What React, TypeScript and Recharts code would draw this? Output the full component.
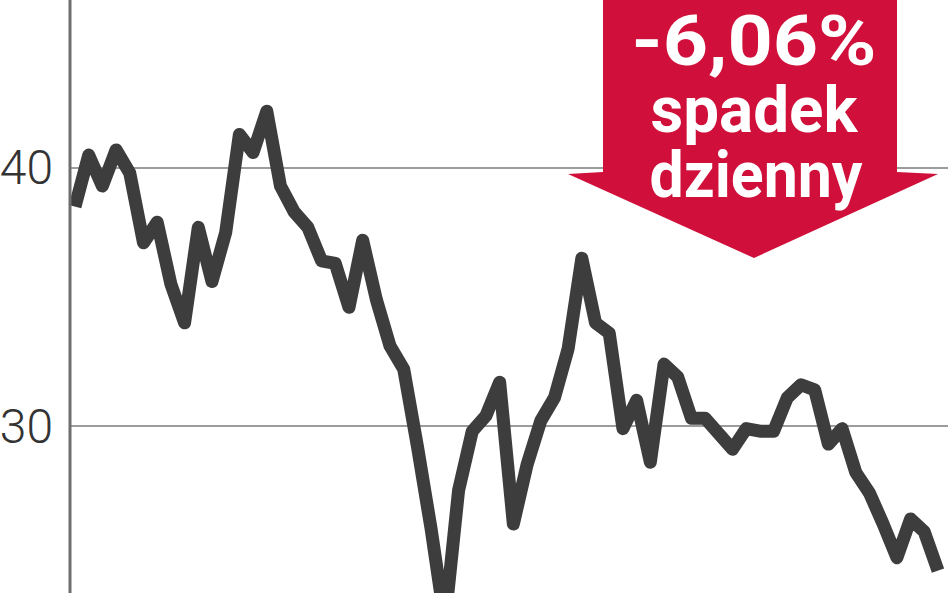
import { LineChart, Line, XAxis, YAxis, CartesianGrid } from "recharts";

// closing prices, one per session
const closes = [
  38.5, 40.5, 39.3, 40.7, 39.8, 37.1, 37.9, 35.5, 34.0, 37.7,
  35.6, 37.5, 41.3, 40.6, 42.2, 39.3, 38.3, 37.7, 36.4, 36.3,
  34.6, 37.2, 34.9, 33.1, 32.2, 29.2, 26.0, 22.4, 27.5, 29.8,
  30.4, 31.7, 26.2, 28.5, 30.2, 31.1, 33.0, 36.5, 34.0, 33.6,
  29.9, 31.0, 28.6, 32.4, 31.9, 30.3, 30.3, 29.7, 29.1, 29.9,
  29.8, 29.8, 31.1, 31.6, 31.4, 29.3, 29.9, 28.2, 27.4, 26.2,
  24.9, 26.4, 25.9, 24.4,
];

const yTicks = [30, 40];
const yDomain = [23.53, 46.51];

const calloutLines = ["-6,06%", "spadek", "dzienny"];

const data = closes.map((close, i) => ({ session: i + 1, close }));

const W = 948;
const H = 593;

function TickLabel(props: any) {
  const { x, y, payload } = props;
  return (
    <text
      x={x}
      y={y}
      textAnchor="end"
      dominantBaseline="central"
      fontFamily="Roboto, 'Open Sans', sans-serif"
      fontWeight={300}
      fontSize={48}
      fill="#333"
    >
      {payload.value}
    </text>
  );
}

function Callout() {
  return (
    <svg
      width={W}
      height={H}
      style={{ position: "absolute", left: 0, top: 0, pointerEvents: "none" }}
    >
      <polygon
        points="603,0 897,0 897,172 938,174 754,258 568,174 603,172"
        fill="#d0103a"
      />
      <g
        fill="#fff"
        fontFamily="Roboto, 'DejaVu Sans', sans-serif"
        fontWeight={700}
        textAnchor="middle"
      >
        <text x={754} y={65} fontSize={70} textLength={245} lengthAdjust="spacingAndGlyphs">
          {calloutLines[0]}
        </text>
        <text x={754} y={132} fontSize={64} textLength={207} lengthAdjust="spacingAndGlyphs">
          {calloutLines[1]}
        </text>
        <text x={756} y={197} fontSize={64} textLength={213} lengthAdjust="spacingAndGlyphs">
          {calloutLines[2]}
        </text>
      </g>
    </svg>
  );
}

export default function App() {
  return (
    <div
      style={{
        position: "absolute",
        left: 0,
        top: 0,
        width: W,
        height: H,
        overflow: "hidden",
        background: "#fff",
      }}
    >
      <LineChart
        width={W}
        height={H}
        data={data}
        margin={{ top: 0, right: 0, bottom: 0, left: 0 }}
      >
        <CartesianGrid
          vertical={false}
          horizontalValues={yTicks}
          stroke="#9c9c9c"
          strokeWidth={2}
        />
        <XAxis dataKey="session" hide padding={{ left: 5, right: 10 }} />
        <YAxis
          width={70}
          domain={yDomain}
          allowDataOverflow
          ticks={yTicks}
          tickLine={false}
          tickSize={0}
          tickMargin={17}
          axisLine={{ stroke: "#6e6e6e", strokeWidth: 3 }}
          tick={<TickLabel />}
        />
        <Line
          type="linear"
          dataKey="close"
          stroke="#3d3d3d"
          strokeWidth={13}
          strokeLinejoin="round"
          dot={false}
          activeDot={false}
          isAnimationActive={false}
        />
      </LineChart>
      <Callout />
    </div>
  );
}
